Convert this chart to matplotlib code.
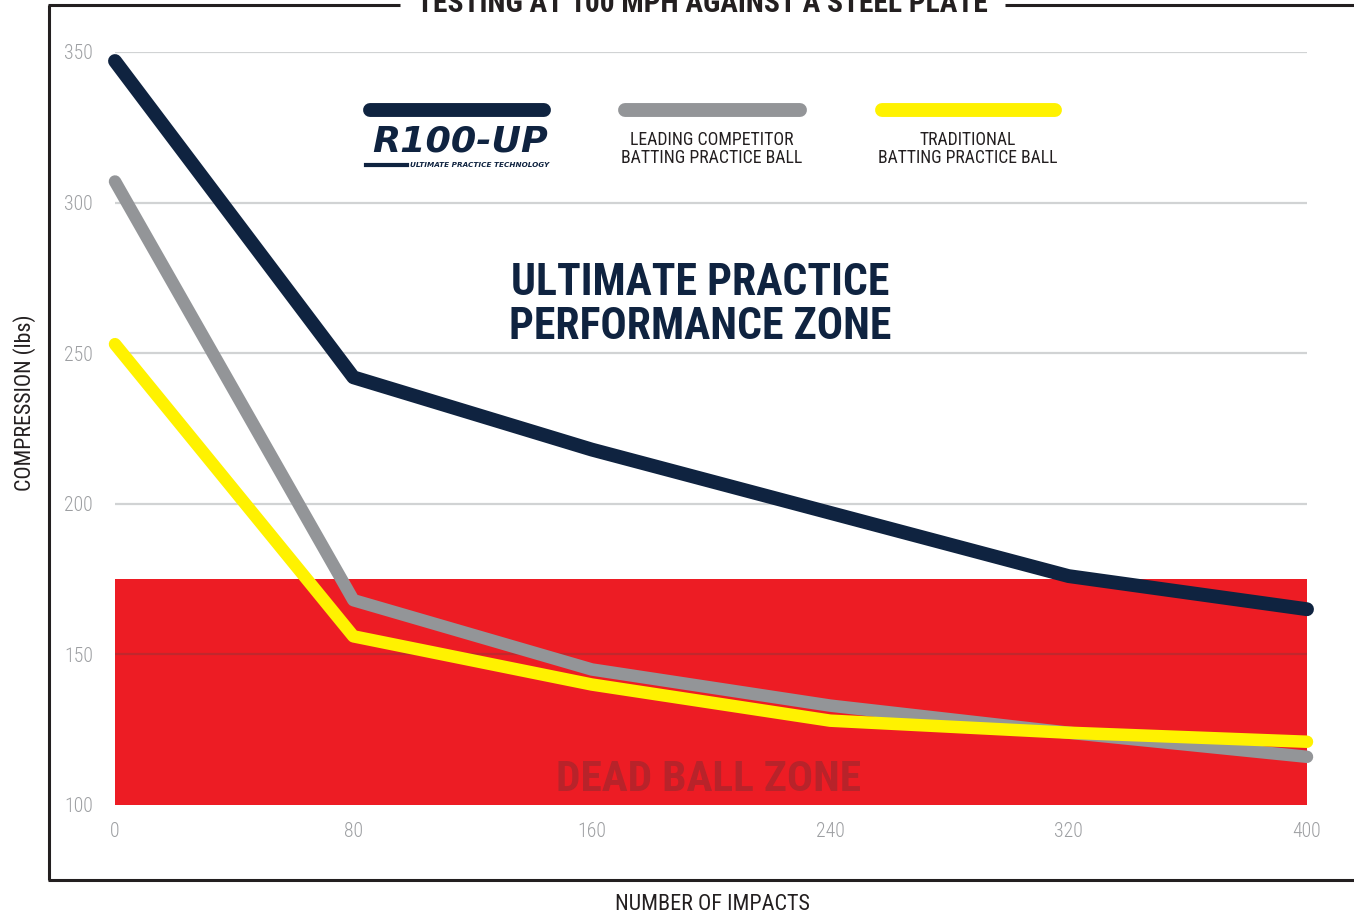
import matplotlib
matplotlib.use("Agg")
import matplotlib.pyplot as plt
from matplotlib.lines import Line2D
from matplotlib import font_manager as fm

# ---- data ----
impacts = [0, 80, 160, 240, 320, 400]
r100_up = [347, 242, 218, 197, 176, 165]
competitor = [307, 168, 145, 133, 124, 116]
traditional = [253, 156, 140, 128, 124, 121]
y_ticks = [100, 150, 200, 250, 300, 350]
x_ticks = [0, 80, 160, 240, 320, 400]
dead_zone = (100, 175)

NAVY = "#0f2340"
GRAY = "#939598"
YELLOW = "#fff200"
RED = "#ed1c24"
DARKRED = "#b8232a"
INK = "#231f20"
TICK = "#9d9fa2"

# pick a condensed face if one is installed
COND, STRETCH = "DejaVu Sans", "normal"
fonts = fm.fontManager.ttflist
for cand in ["Roboto Condensed", "Liberation Sans Narrow", "Open Sans Condensed",
             "DejaVu Sans Condensed", "Noto Sans Condensed"]:
    if any(f.name == cand for f in fonts):
        COND = cand
        break
else:
    for fam in ["DejaVu Sans", "Noto Sans", "Roboto", "Open Sans"]:
        if any(f.name == fam and str(f.stretch) in ("condensed", "semi-condensed", "extra-condensed")
               for f in fonts):
            COND, STRETCH = fam, "condensed"
            break

W, H = 1354, 918
fig = plt.figure(figsize=(W / 100, H / 100), dpi=100)
fig.patch.set_facecolor("white")

def fx(x):
    return x / W

def fy(y):
    return 1 - y / H

ax = fig.add_axes([fx(115), fy(805), fx(1307) - fx(115), fy(52) - fy(805)])
ax.set_xlim(0, 400)
ax.set_ylim(100, 350)
for s in ax.spines.values():
    s.set_visible(False)
ax.set_xticks(x_ticks)
ax.set_yticks(y_ticks)
ax.tick_params(length=0, colors=TICK, labelsize=16)
ax.tick_params(axis="y", pad=16)
ax.tick_params(axis="x", pad=12)
ax.grid(axis="y", color="#d1d3d4", lw=1.6)
ax.set_axisbelow(True)

ax.axhspan(dead_zone[0], dead_zone[1], color=RED, zorder=0.6, lw=0)
ax.axhline(150, color="#c1272d", lw=1.6, zorder=0.7)
t_dead = ax.text(0.498, 0.034, "DEAD BALL ZONE", transform=ax.transAxes, color=DARKRED,
                 fontsize=34, fontweight="bold", ha="center", va="center", zorder=0.8)

ax.plot(impacts, competitor, color=GRAY, lw=9, solid_capstyle="round",
        solid_joinstyle="round", clip_on=False, zorder=3)
ax.plot(impacts, traditional, color=YELLOW, lw=9, solid_capstyle="round",
        solid_joinstyle="round", clip_on=False, zorder=4)
ax.plot(impacts, r100_up, color=NAVY, lw=10, solid_capstyle="round",
        solid_joinstyle="round", clip_on=False, zorder=5)

t_zone = fig.text(fx(700), fy(305), "ULTIMATE PRACTICE\nPERFORMANCE ZONE",
                  color=NAVY, fontsize=32, fontweight="bold",
                  ha="center", va="center", linespacing=1.05)

# ---- frame ----
fl = dict(color=INK, lw=2.2, solid_capstyle="butt")
fig.add_artist(Line2D([fx(49), fx(49)], [fy(5), fy(880)], **fl))
fig.add_artist(Line2D([fx(48), fx(1354)], [fy(880), fy(880)], **fl))
fig.add_artist(Line2D([fx(48), fx(400)], [fy(5), fy(5)], **fl))
fig.add_artist(Line2D([fx(1005), fx(1354)], [fy(5), fy(5)], **fl))
t_title = fig.text(fx(702), fy(4), "TESTING AT 100 MPH AGAINST A STEEL PLATE", ha="center",
                   va="center", fontsize=20, fontweight="bold", color=INK)

# ---- axis labels ----
t_ylab = fig.text(fx(25), fy(403), "COMPRESSION (lbs)", rotation=90, ha="center", va="center",
                  fontsize=17, color=INK)
t_xlab = fig.text(fx(712), fy(905), "NUMBER OF IMPACTS", ha="center", va="center",
                  fontsize=17, color=INK)

# ---- legend ----
leg_y = fy(110)
for (x0, x1), c in [((370, 544), NAVY), ((625, 800), GRAY), ((882, 1055), YELLOW)]:
    fig.add_artist(Line2D([fx(x0), fx(x1)], [leg_y, leg_y], color=c, lw=10,
                          solid_capstyle="round"))
t_l2 = fig.text(fx(712), fy(149), "LEADING COMPETITOR\nBATTING PRACTICE BALL", ha="center",
                va="center", fontsize=15, color=INK, linespacing=0.95)
t_l3 = fig.text(fx(968), fy(149), "TRADITIONAL\nBATTING PRACTICE BALL", ha="center",
                va="center", fontsize=15, color=INK, linespacing=0.95)
t_logo = fig.text(fx(460), fy(141), "R100-UP", ha="center", va="center", fontsize=24,
                  fontweight="bold", fontstyle="italic", color=NAVY)
t_logo2 = fig.text(fx(480), fy(165), "ULTIMATE PRACTICE TECHNOLOGY", ha="center", va="center",
                   fontsize=5.5, fontweight="bold", fontstyle="italic", color=NAVY)
fig.add_artist(Line2D([fx(366), fx(407)], [fy(165), fy(165)], color=NAVY, lw=3))

texts = [t_dead, t_zone, t_title, t_ylab, t_xlab, t_l2, t_l3] + \
    ax.get_xticklabels() + ax.get_yticklabels()
for t in texts:
    t.set_fontfamily(COND)
    t.set_fontstretch(STRETCH)
for t in ax.get_xticklabels() + ax.get_yticklabels():
    t.set_fontweight("light")

# fit text widths to the reference layout
fig.canvas.draw()
rend = fig.canvas.get_renderer()

def fit(t, target, horizontal=True):
    bb = t.get_window_extent(rend)
    cur = bb.width if horizontal else bb.height
    t.set_fontsize(t.get_fontsize() * target / cur)

fit(t_title, 573)
fit(t_zone, 383)
fit(t_dead, 305)
fit(t_l2, 181)
fit(t_l3, 180)
fit(t_xlab, 195)
fit(t_ylab, 177, horizontal=False)
fit(t_logo, 176)
fit(t_logo2, 138)
lab350 = [l for l in ax.get_yticklabels() if l.get_text() == "350"]
if lab350:
    bb = lab350[0].get_window_extent(rend)
    size = ax.yaxis.get_majorticklabels()[0].get_fontsize() * 29 / bb.width
    ax.tick_params(labelsize=size)

fig.savefig("out.png", dpi=100)
